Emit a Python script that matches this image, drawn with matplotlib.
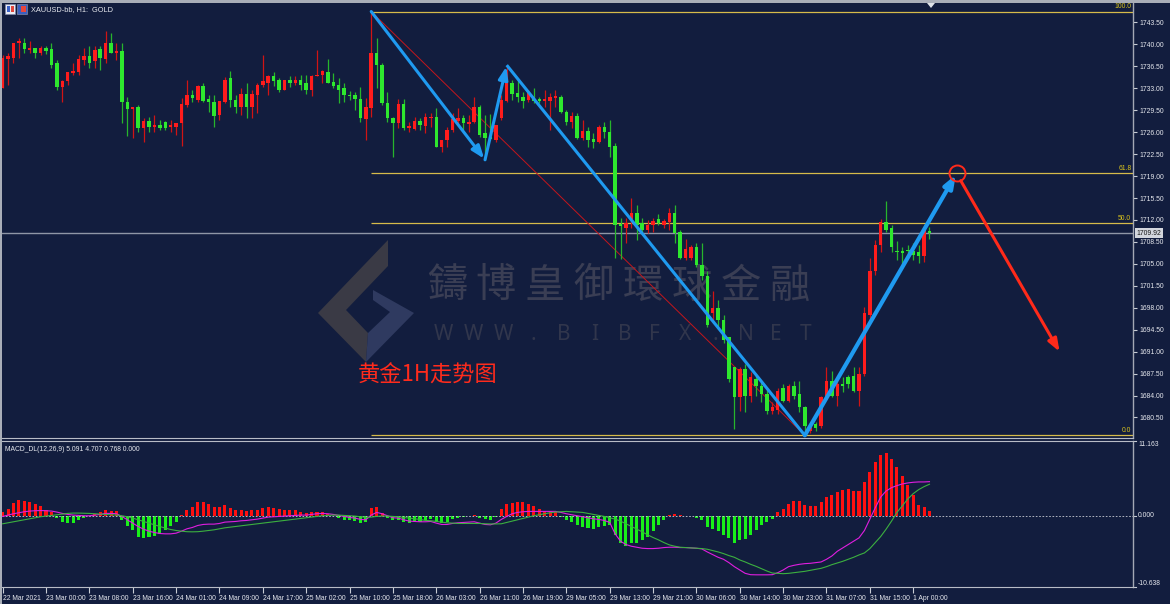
import numpy as np
import matplotlib
matplotlib.use("Agg")
import matplotlib.pyplot as plt
from matplotlib.patches import Polygon, Rectangle
from matplotlib import font_manager

# ---------------- data: XAUUSD H1 candles (bar 0 = 23 Mar 00:00) ----------------
bar_index = list(range(-8, 164))

opens = [
    1733.0, 1737.6, 1737.9, 1740.2, 1740.3, 1739.1, 1739.4, 1738.6,
    1739.5, 1739.2, 1737.0, 1733.2, 1734.1, 1735.4, 1735.6, 1737.5, 1738.1, 1737.3,
    1739.2, 1737.6, 1740.2, 1738.7, 1739.0, 1730.8, 1729.7, 1730.1, 1726.6, 1727.8,
    1726.8, 1727.1, 1727.6, 1726.8, 1726.8, 1727.4, 1730.3, 1731.9, 1731.1, 1733.3,
    1731.3, 1730.8, 1728.7, 1730.8, 1734.6, 1731.1, 1730.0, 1732.1, 1730.0, 1731.9,
    1733.6, 1733.8, 1734.9, 1734.3, 1732.8, 1734.4, 1733.8, 1734.4, 1733.8, 1732.8,
    1734.9, 1735.1, 1735.6, 1734.0, 1733.5, 1733.0, 1731.9, 1731.9, 1731.3, 1728.1,
    1729.8, 1738.7, 1736.8, 1730.6, 1728.2, 1727.4, 1730.5, 1726.6, 1726.5, 1727.8,
    1727.0, 1728.2, 1728.4, 1723.6, 1724.7, 1726.3, 1727.8, 1728.2, 1727.3, 1727.6,
    1730.0, 1725.8, 1725.2, 1724.7, 1728.2, 1730.9, 1733.8, 1732.2, 1731.6, 1731.1,
    1731.3, 1731.3, 1730.9, 1730.9, 1731.4, 1731.6, 1729.2, 1727.6, 1728.6, 1725.1,
    1726.2, 1724.9, 1724.4, 1726.9, 1726.0, 1723.8, 1711.3, 1710.7, 1712.2, 1713.1,
    1711.5, 1710.4, 1711.2, 1712.2, 1711.2, 1711.7, 1713.1, 1710.1, 1706.0, 1706.0,
    1707.7, 1704.9, 1703.0, 1697.2, 1698.0, 1696.1, 1693.3, 1688.5, 1683.7, 1688.2,
    1684.0, 1686.7, 1685.5, 1684.2, 1681.5, 1681.7, 1685.2, 1683.1, 1685.5, 1684.2,
    1682.1, 1678.3, 1679.4, 1679.1, 1683.7, 1686.3, 1683.9, 1685.8, 1686.9, 1687.1,
    1684.7, 1687.4, 1696.9, 1703.8, 1708.0, 1711.7, 1710.8, 1707.1, 1707.1, 1707.2,
    1707.1, 1706.9, 1706.2, 1710.2,
]
highs = [
    1738.3, 1738.6, 1740.3, 1741.0, 1741.0, 1740.6, 1739.5, 1739.8,
    1739.8, 1740.3, 1737.5, 1734.3, 1735.6, 1737.0, 1738.3, 1739.4, 1739.7, 1739.8,
    1739.8, 1742.2, 1741.8, 1740.2, 1740.2, 1731.6, 1730.1, 1730.3, 1728.2, 1728.4,
    1728.7, 1727.9, 1727.8, 1727.9, 1727.4, 1731.4, 1734.3, 1732.7, 1733.6, 1733.8,
    1731.9, 1731.9, 1730.9, 1734.8, 1735.7, 1731.9, 1733.0, 1733.8, 1732.7, 1733.8,
    1738.3, 1735.1, 1735.6, 1734.6, 1734.3, 1734.9, 1734.9, 1735.1, 1735.1, 1735.1,
    1739.1, 1735.9, 1737.6, 1735.4, 1734.6, 1733.8, 1732.5, 1732.4, 1733.2, 1731.4,
    1745.25, 1741.0, 1737.1, 1732.4, 1728.4, 1731.3, 1731.3, 1727.6, 1728.4, 1728.2,
    1729.0, 1729.0, 1729.8, 1724.7, 1726.8, 1729.0, 1729.8, 1728.7, 1728.7, 1731.6,
    1730.3, 1728.7, 1728.9, 1727.1, 1732.0, 1736.7, 1734.3, 1734.3, 1732.4, 1732.8,
    1733.0, 1731.6, 1732.7, 1732.2, 1732.8, 1731.9, 1729.5, 1729.2, 1729.0, 1727.9,
    1726.8, 1725.9, 1727.1, 1727.6, 1727.9, 1724.3, 1712.3, 1712.3, 1715.5, 1714.4,
    1712.3, 1712.0, 1712.3, 1713.0, 1712.2, 1713.9, 1714.4, 1710.4, 1709.0, 1708.0,
    1708.4, 1708.4, 1703.8, 1700.6, 1699.3, 1696.9, 1693.4, 1688.6, 1688.5, 1689.0,
    1687.7, 1687.4, 1686.2, 1685.0, 1683.0, 1685.2, 1685.8, 1685.8, 1686.3, 1686.3,
    1682.3, 1679.4, 1679.8, 1683.9, 1688.5, 1687.9, 1686.6, 1686.9, 1687.2, 1688.5,
    1688.6, 1698.2, 1706.0, 1708.8, 1712.2, 1715.0, 1711.2, 1708.6, 1707.7, 1708.0,
    1708.3, 1708.0, 1710.9, 1710.9,
]
lows = [
    1733.0, 1733.5, 1737.1, 1737.8, 1738.7, 1738.6, 1737.9, 1738.3,
    1738.4, 1736.3, 1732.7, 1730.8, 1733.5, 1735.1, 1735.1, 1736.7, 1736.3, 1736.2,
    1735.9, 1737.1, 1738.6, 1737.5, 1727.4, 1725.4, 1725.1, 1726.0, 1724.4, 1726.0,
    1726.0, 1726.3, 1726.3, 1726.0, 1725.5, 1723.8, 1730.1, 1730.8, 1730.8, 1730.8,
    1729.2, 1726.8, 1727.9, 1730.6, 1730.0, 1729.0, 1728.7, 1728.2, 1728.2, 1729.0,
    1733.2, 1731.9, 1733.3, 1732.4, 1732.7, 1733.2, 1733.5, 1732.8, 1732.1, 1731.7,
    1734.9, 1733.8, 1733.8, 1733.0, 1730.6, 1730.8, 1731.1, 1729.5, 1727.6, 1724.7,
    1728.4, 1733.0, 1730.3, 1727.6, 1722.0, 1726.6, 1726.3, 1726.0, 1726.3, 1726.3,
    1725.9, 1726.8, 1723.6, 1722.8, 1723.6, 1726.0, 1727.1, 1726.3, 1726.1, 1727.4,
    1725.2, 1721.6, 1724.7, 1724.4, 1727.9, 1730.8, 1731.1, 1730.8, 1729.8, 1730.8,
    1730.6, 1730.6, 1730.1, 1726.3, 1730.0, 1729.0, 1727.1, 1726.6, 1724.9, 1724.7,
    1723.6, 1723.5, 1724.3, 1725.1, 1722.0, 1706.0, 1705.7, 1708.4, 1710.7, 1708.8,
    1710.1, 1710.0, 1710.1, 1711.2, 1710.7, 1710.4, 1708.4, 1705.7, 1705.6, 1705.6,
    1704.5, 1702.5, 1695.0, 1695.6, 1695.0, 1692.4, 1686.1, 1678.6, 1681.5, 1681.3,
    1682.9, 1683.9, 1683.0, 1681.0, 1681.0, 1681.0, 1682.9, 1682.9, 1683.4, 1681.3,
    1677.65, 1678.0, 1678.3, 1678.9, 1683.4, 1683.7, 1682.3, 1684.5, 1685.2, 1684.5,
    1682.3, 1687.1, 1696.0, 1703.3, 1706.9, 1710.1, 1706.9, 1705.6, 1704.8, 1706.1,
    1705.6, 1705.1, 1705.3, 1708.9,
]
closes = [
    1737.8, 1738.1, 1740.2, 1740.5, 1739.2, 1739.4, 1738.6, 1739.5,
    1739.0, 1736.8, 1733.2, 1734.1, 1735.6, 1735.7, 1737.6, 1738.1, 1737.1, 1739.1,
    1737.8, 1740.2, 1738.7, 1739.0, 1730.8, 1729.7, 1730.1, 1726.6, 1727.8, 1726.8,
    1727.1, 1726.6, 1726.6, 1727.1, 1727.4, 1730.5, 1731.9, 1731.4, 1733.3, 1730.9,
    1730.8, 1728.6, 1730.9, 1734.4, 1731.1, 1730.0, 1732.1, 1730.0, 1732.1, 1733.6,
    1734.1, 1734.9, 1734.1, 1732.7, 1734.3, 1733.8, 1734.4, 1733.6, 1732.8, 1734.9,
    1735.1, 1735.7, 1733.8, 1733.3, 1732.8, 1731.9, 1731.7, 1731.3, 1728.2, 1730.0,
    1738.7, 1736.7, 1730.6, 1728.2, 1727.4, 1730.5, 1726.6, 1727.0, 1727.8, 1727.1,
    1728.4, 1728.4, 1723.6, 1724.7, 1726.3, 1728.1, 1728.2, 1727.4, 1727.6, 1730.0,
    1725.5, 1725.1, 1724.9, 1727.1, 1731.1, 1733.8, 1732.1, 1731.6, 1730.9, 1732.2,
    1730.9, 1730.9, 1731.3, 1731.6, 1731.7, 1729.2, 1727.6, 1728.6, 1725.1, 1726.2,
    1724.7, 1724.4, 1726.8, 1726.0, 1723.6, 1711.2, 1711.0, 1711.5, 1713.1, 1711.2,
    1710.4, 1711.2, 1711.9, 1711.5, 1711.9, 1713.1, 1710.0, 1706.0, 1707.3, 1707.7,
    1704.9, 1703.0, 1695.3, 1698.0, 1696.0, 1692.9, 1686.6, 1683.7, 1688.2, 1684.0,
    1686.9, 1685.5, 1684.2, 1681.5, 1682.1, 1684.8, 1683.1, 1685.5, 1684.0, 1682.1,
    1679.1, 1679.1, 1678.8, 1683.7, 1686.3, 1683.9, 1685.9, 1685.6, 1685.8, 1684.7,
    1687.4, 1697.2, 1703.8, 1708.0, 1711.7, 1710.4, 1707.7, 1706.9, 1706.7, 1707.0,
    1706.4, 1706.2, 1710.4, 1709.92,
]

# MACD_DL(12,26,9): histogram, MACD line, signal line (one value per bar)
macd_hist = [
    0.6, 1.05, 1.9, 2.3, 2.25, 2.0, 1.75, 1.5,
    0.9, 0.5, -0.35, -1.0, -1.1, -1.1, -0.7, -0.35, -0.1, 0.3,
    0.5, 0.9, 0.75, 0.75, -0.6, -1.6, -2.2, -3.1, -3.3, -3.2,
    -3.0, -2.7, -2.1, -1.6, -1.0, 0.05, 0.9, 1.3, 2.0, 2.0,
    1.8, 1.3, 1.3, 1.55, 1.15, 0.9, 0.9, 0.65, 0.8, 0.9,
    1.1, 1.25, 1.15, 1.05, 0.9, 0.9, 0.8, 0.6, 0.4, 0.5,
    0.6, 0.6, 0.3, 0.0, -0.3, -0.6, -0.7, -0.8, -1.1, -1.0,
    1.2, 1.3, 0.4, -0.3, -0.7, -0.6, -1.0, -1.1, -1.0, -0.9,
    -0.7, -0.5, -1.0, -1.1, -0.9, -0.5, -0.3, -0.2, -0.1, 0.1,
    -0.3, -0.5, -0.6, -0.2, 1.0, 1.8, 1.9, 2.05, 2.0, 1.8,
    1.5, 1.0, 0.75, 0.65, 0.5, -0.2, -0.7, -1.0, -1.35, -1.7,
    -1.85, -2.0, -1.7, -1.5, -1.35, -2.8, -4.1, -4.5, -4.1, -4.0,
    -3.6, -3.2, -2.35, -1.35, -0.6, 0.15, 0.3, 0.05, -0.05, -0.05,
    -0.35, -0.6, -1.7, -2.0, -2.35, -2.85, -3.35, -4.0, -3.6, -3.5,
    -2.85, -2.1, -1.35, -1.0, -0.5, 0.5, 1.0, 1.8, 2.15, 2.15,
    1.65, 1.5, 1.4, 2.0, 2.8, 3.15, 3.5, 3.8, 3.95, 3.7,
    3.7, 5.0, 6.5, 8.0, 9.1, 9.346, 8.5, 7.3, 6.0, 4.6,
    3.15, 1.65, 1.3, 0.768,
]
macd_line = [
    -0.1, 0.1, 0.3, 0.45, 0.6, 0.7, 0.75, 0.78,
    0.75, 0.7, 0.55, 0.35, 0.2, 0.1, 0.05, 0.0, 0.0, 0.1,
    0.2, 0.35, 0.35, 0.3, -0.1, -0.6, -1.1, -1.6, -2.0, -2.3,
    -2.5, -2.65, -2.7, -2.7, -2.6, -2.3, -1.95, -1.75, -1.45, -1.3,
    -1.25, -1.25, -1.15, -0.95, -0.9, -0.85, -0.75, -0.7, -0.6, -0.5,
    -0.35, -0.2, -0.15, -0.1, -0.05, 0.0, 0.05, 0.1, 0.1, 0.2,
    0.3, 0.35, 0.3, 0.2, 0.05, -0.1, -0.25, -0.35, -0.55, -0.6,
    0.1, 0.5, 0.3, 0.0, -0.3, -0.35, -0.6, -0.8, -0.85, -0.9,
    -0.9, -0.85, -1.1, -1.3, -1.3, -1.15, -1.05, -1.0, -0.95, -0.9,
    -1.1, -1.3, -1.35, -1.1, -0.55, -0.1, 0.3, 0.5, 0.6, 0.65,
    0.65, 0.65, 0.65, 0.65, 0.65, 0.5, 0.3, 0.15, 0.0, -0.15,
    -0.3, -0.45, -0.55, -0.7, -1.0, -2.7, -3.8, -4.3, -4.55, -4.7,
    -4.85, -4.9, -4.9, -4.85, -4.75, -4.7, -4.7, -4.75, -4.75, -4.8,
    -4.85, -4.95, -5.4, -5.8, -6.2, -6.5, -7.0, -7.6, -8.1, -8.6,
    -8.8, -8.82, -8.82, -8.82, -8.8, -8.5, -8.1, -7.6, -7.4, -7.25,
    -7.15, -7.1, -7.0, -6.9, -6.5, -6.0, -5.3, -4.8, -4.3, -3.8,
    -3.3, -2.2, -0.5, 1.2, 2.8, 3.7, 4.2, 4.5, 4.75, 4.9,
    5.0, 5.05, 5.05, 5.091,
]
signal_line = [
    -1.2, -1.05, -0.9, -0.75, -0.6, -0.45, -0.3, -0.15,
    -0.05, 0.05, 0.15, 0.25, 0.35, 0.4, 0.4, 0.38, 0.35, 0.3,
    0.25, 0.2, 0.15, 0.1, 0.0, -0.15, -0.35, -0.6, -0.85, -1.1,
    -1.35, -1.6, -1.85, -2.05, -2.2, -2.3, -2.38, -2.4, -2.38, -2.3,
    -2.2, -2.1, -1.95, -1.8, -1.7, -1.6, -1.5, -1.4, -1.3, -1.2,
    -1.1, -1.0, -0.9, -0.8, -0.7, -0.6, -0.5, -0.4, -0.3, -0.2,
    -0.1, 0.0, 0.05, 0.1, 0.1, 0.05, 0.0, -0.05, -0.15, -0.25,
    -0.2, -0.1, -0.05, -0.05, -0.1, -0.15, -0.25, -0.35, -0.45, -0.55,
    -0.7, -0.75, -0.85, -0.95, -1.05, -1.1, -1.15, -1.15, -1.15, -1.15,
    -1.15, -1.2, -1.22, -1.22, -1.2, -1.0, -0.8, -0.6, -0.4, -0.2,
    0.0, 0.15, 0.3, 0.45, 0.55, 0.6, 0.65, 0.6, 0.55, 0.5,
    0.35, 0.2, 0.05, -0.1, -0.3, -0.5, -0.8, -1.2, -1.6, -2.0,
    -2.4, -2.85, -3.25, -3.6, -4.0, -4.35, -4.55, -4.7, -4.75, -4.8,
    -4.85, -4.9, -5.0, -5.2, -5.4, -5.65, -5.95, -6.2, -6.6, -6.9,
    -7.25, -7.55, -7.9, -8.25, -8.55, -8.6, -8.65, -8.6, -8.5, -8.4,
    -8.3, -8.15, -8.0, -7.85, -7.6, -7.3, -7.05, -6.8, -6.5, -6.2,
    -5.85, -5.55, -4.9, -4.0, -3.1, -2.0, -0.8, 0.5, 1.5, 2.5,
    3.3, 3.9, 4.35, 4.707,
]
macd_signal_level = 0.0
macd_scale_top, macd_scale_bottom = 11.163, -10.638

time_label_bars = [-8] + list(range(0, 161, 8))
time_labels = ["22 Mar 2021", "23 Mar 00:00", "23 Mar 08:00", "23 Mar 16:00",
               "24 Mar 01:00", "24 Mar 09:00", "24 Mar 17:00", "25 Mar 02:00",
               "25 Mar 10:00", "25 Mar 18:00", "26 Mar 03:00", "26 Mar 11:00",
               "26 Mar 19:00", "29 Mar 05:00", "29 Mar 13:00", "29 Mar 21:00",
               "30 Mar 06:00", "30 Mar 14:00", "30 Mar 23:00", "31 Mar 07:00",
               "31 Mar 15:00", "1 Apr 00:00"]
price_ticks = [1680.5 + 3.5 * k for k in range(19)]

# Fibonacci retracement anchored on the swing high / swing low bars
fib_levels = [0.0, 50.0, 61.8, 100.0]
swing_high_bar, swing_low_bar = 60, 140
# zig-zag pivots (bar, high/low) and projected path (bar, price)
zigzag_pivots = [(60, "high"), (81, "low"), (85, "high"), (140, "low")]
projection_bar = 168                 # rally target on the 61.8 level
drop_target = (187, 1691.0)          # expected pull-back after the target

# ---------------- styling ----------------
W, H = 1170, 604
BG = "#121d3e"
UP_BODY, UP_WICK = "#ff1c1c", "#d01414"
DN_BODY, DN_WICK = "#2ee82e", "#27b52c"
FIB_COL = "#d6bb4a"
BLUE = "#1f9af0"
RED_MARK = "#ff2a1a"
AXIS_COL = "#a3a8b4"
TEXT_COL = "#e6e8ee"
UI_SIZE = 4.9

names = {f.name for f in font_manager.fontManager.ttflist}
UI_FONT = "Liberation Sans" if "Liberation Sans" in names else "DejaVu Sans"
plt.rcParams["font.family"] = [UI_FONT, "DejaVu Sans"]

fig = plt.figure(figsize=(W / 100, H / 100), dpi=100, facecolor=BG)


def fx(px):
    return px / W


def fy(py):
    return 1 - py / H


ax = fig.add_axes([fx(2), fy(438), fx(1133) - fx(2), fy(3) - fy(438)])
axm = fig.add_axes([fx(2), fy(587), fx(1133) - fx(2), fy(441) - fy(587)])

X_LEFT, X_RIGHT = -8.12, 200.55
for a in (ax, axm):
    a.set_facecolor(BG)
    a.set_xlim(X_LEFT, X_RIGHT)
    for side in ("top", "left"):
        a.spines[side].set_visible(False)
    a.spines["right"].set_color(AXIS_COL)
    a.spines["right"].set_linewidth(1.0)
ax.spines["bottom"].set_color("#b8bcc6")
axm.spines["top"].set_visible(True)
axm.spines["top"].set_color("#b8bcc6")
axm.spines["bottom"].set_color("#b8bcc6")

ax.set_ylim(1677.23, 1746.61)
axm.set_ylim(macd_scale_bottom, macd_scale_top)

# ---------------- watermark (behind the price data) ----------------
wm_color = "#3a3e54"
for i, ch in enumerate("鑄博皇御環球金融"):
    ax.text(fx(447 + 49 * i), fy(286), ch, transform=fig.transFigure,
            fontsize=29, color=wm_color, ha="center", va="center",
            family=["Noto Sans CJK TC", "DejaVu Sans"], zorder=0.5)
for i, ch in enumerate("WWW.BIBFX.NET"):
    ax.text(fx(443 + 30.25 * i), fy(334), ch, transform=fig.transFigure,
            fontsize=15, color="#31364c", ha="center", va="center",
            family=["Noto Sans", "DejaVu Sans"], zorder=0.5)
logo_dark = [(388, 240), (388, 266), (346, 310), (368, 333), (366, 362), (318, 313)]
logo_light = [(373, 290), (414, 313), (366, 362), (368, 333), (390, 312), (373, 300)]
for pts, col in ((logo_dark, "#3a3a45"), (logo_light, "#2f3a60")):
    ax.add_patch(Polygon([(fx(x), fy(y)) for x, y in pts], closed=True,
                         transform=fig.transFigure, fc=col, ec="none", zorder=0.4))

# ---------------- candles ----------------
x = np.array(bar_index, dtype=float)
o, h, l, c = (np.array(v) for v in (opens, highs, lows, closes))
rising = c >= o
ax.vlines(x, l, h, colors=np.where(rising, UP_WICK, DN_WICK), lw=0.9, zorder=3)
body_lo = np.minimum(o, c)
body_h = np.maximum(np.abs(c - o), 0.18)
ax.bar(x, body_h, bottom=body_lo, width=0.64,
       color=np.where(rising, UP_BODY, DN_BODY), linewidth=0, zorder=4)

pos = {b: i for i, b in enumerate(bar_index)}
fib_hi = highs[pos[swing_high_bar]]
fib_lo = lows[pos[swing_low_bar]]
fib_price = {lv: fib_lo + (fib_hi - fib_lo) * lv / 100.0 for lv in fib_levels}

# current price line and its marker on the scale
last = closes[-1]
ax.axhline(last, color="#8f96a6", lw=1.0, zorder=2)
ax.text(1.003, last, f"{last:.2f}", transform=ax.get_yaxis_transform(),
        ha="left", va="center", fontsize=UI_SIZE, color="#151515", clip_on=False,
        bbox=dict(boxstyle="square,pad=0.22", fc="#d3d6dd", ec="none"), zorder=10)

# Fibonacci levels
for lv in fib_levels:
    ax.hlines(fib_price[lv], swing_high_bar, X_RIGHT, color=FIB_COL, lw=0.9, zorder=2)
    ax.text(0.9985, fib_price[lv] + 0.25, f"{lv:.1f}", transform=ax.get_yaxis_transform(),
            ha="right", va="bottom", fontsize=UI_SIZE, color="#d8c21c", zorder=5)
ax.plot([swing_high_bar, swing_low_bar], [fib_hi, fib_lo], color="#c4161c", lw=0.7, zorder=2)

# zig-zag path with arrows
pivot_xy = [(b, highs[pos[b]] if kind == "high" else lows[pos[b]]) for b, kind in zigzag_pivots]
target_xy = (projection_bar, fib_price[61.8])
arrow_style = "-|>,head_length=0.75,head_width=0.28"
for (x0, y0), (x1, y1), with_head, lw in (
        (pivot_xy[0], pivot_xy[1], True, 2.2),
        (pivot_xy[1], pivot_xy[2], True, 2.2),
        (pivot_xy[2], pivot_xy[3], False, 2.2),
        (pivot_xy[3], target_xy, True, 3.0)):
    if with_head:
        ax.annotate("", xy=(x1, y1), xytext=(x0, y0), zorder=6,
                    arrowprops=dict(arrowstyle=arrow_style, color=BLUE, lw=lw,
                                    shrinkA=0, shrinkB=1, mutation_scale=10))
    else:
        ax.plot([x0, x1], [y0, y1], color=BLUE, lw=lw, solid_capstyle="butt", zorder=6)

ax.plot(*target_xy, marker="o", ms=11.5, mfc="none", mec=RED_MARK, mew=1.4, zorder=7)
ax.annotate("", xy=drop_target, xytext=target_xy, zorder=6,
            arrowprops=dict(arrowstyle=arrow_style, color=RED_MARK, lw=2.2,
                            shrinkA=6, shrinkB=0, mutation_scale=10))

ax.text(fx(358), fy(375), "黄金1H走势图", transform=fig.transFigure,
        fontsize=16, color="#ff2b1c", ha="left", va="center",
        family=["Noto Sans CJK SC", "DejaVu Sans"], zorder=8)

# price scale
ax.yaxis.tick_right()
ax.set_yticks(price_ticks)
ax.set_yticklabels([f"{p:.2f}" for p in price_ticks])
ax.tick_params(axis="y", direction="out", length=3, width=0.8, color="#c8ccd4",
               labelcolor=TEXT_COL, labelsize=UI_SIZE, pad=1.5)
ax.tick_params(axis="x", bottom=False, labelbottom=False)

# ---------------- MACD panel ----------------
xm = np.array(bar_index, dtype=float)
hv = np.array(macd_hist)
axm.bar(xm, hv, width=0.56, color=np.where(hv >= 0, "#ff1010", "#19f019"),
        linewidth=0, zorder=3)
axm.axhline(macd_signal_level, color="#c9cdd6", lw=0.6, ls=(0, (2, 2)), zorder=4)
axm.plot(xm, macd_line, color="#e01ee0", lw=0.8, zorder=5)
axm.plot(xm, signal_line, color="#3cb040", lw=0.8, zorder=5)

axm.set_yticks([])
ytr = axm.get_yaxis_transform()
for val, va in ((macd_scale_top, "top"), (0.0, "center"), (macd_scale_bottom, "bottom")):
    axm.text(1.0045, val, f"{val:.3f}", transform=ytr, ha="left", va=va,
             fontsize=UI_SIZE, color=TEXT_COL, clip_on=False)
    axm.plot([1.0, 1.0025], [val, val], transform=ytr, color="#c8ccd4", lw=0.8, clip_on=False)

axm.text(0.003, 0.965, f"MACD_DL(12,26,9) {macd_line[-1]:.3f} {signal_line[-1]:.3f} "
         f"{macd_hist[-1]:.3f} {macd_signal_level:.3f}",
         transform=axm.transAxes, ha="left", va="top", fontsize=UI_SIZE, color=TEXT_COL, zorder=6)

axm.set_xticks(time_label_bars)
axm.set_xticklabels(time_labels, ha="left")
axm.tick_params(axis="x", direction="out", length=4, width=0.8, color="#c8ccd4",
                labelcolor=TEXT_COL, labelsize=UI_SIZE, pad=1.5)

# ---------------- window chrome ----------------
fig.add_artist(Rectangle((0, fy(2.5)), 1, 2.5 / H, transform=fig.transFigure,
                         fc="#a9aeb8", ec="none"))
fig.add_artist(Rectangle((0, 0), 1.5 / W, 1, transform=fig.transFigure,
                         fc="#a9aeb8", ec="none"))
fig.add_artist(Polygon([(fx(927), fy(3)), (fx(935), fy(3)), (fx(931), fy(8))],
                       closed=True, transform=fig.transFigure, fc="#dfe2e8", ec="none"))
# symbol icons and title
fig.add_artist(Rectangle((fx(5), fy(14)), 10 / W, 10 / H, transform=fig.transFigure,
                         fc="#e9ebf4", ec="#8088a8", lw=0.5))
fig.add_artist(Rectangle((fx(7), fy(12)), 3 / W, 6 / H, transform=fig.transFigure,
                         fc="#3b62c8", ec="none"))
fig.add_artist(Rectangle((fx(11), fy(12)), 3 / W, 6 / H, transform=fig.transFigure,
                         fc="#e0463c", ec="none"))
fig.add_artist(Rectangle((fx(17), fy(14)), 10 / W, 10 / H, transform=fig.transFigure,
                         fc="#3a5fc0", ec="#8088a8", lw=0.5))
fig.add_artist(Rectangle((fx(21), fy(12)), 5 / W, 6 / H, transform=fig.transFigure,
                         fc="#e8463c", ec="none"))
fig.text(fx(31), fy(9.5), "XAUUSD-bb, H1:  GOLD", ha="left", va="center",
         fontsize=5.3, color=TEXT_COL)

fig.savefig("out.png", dpi=100, facecolor=BG)
